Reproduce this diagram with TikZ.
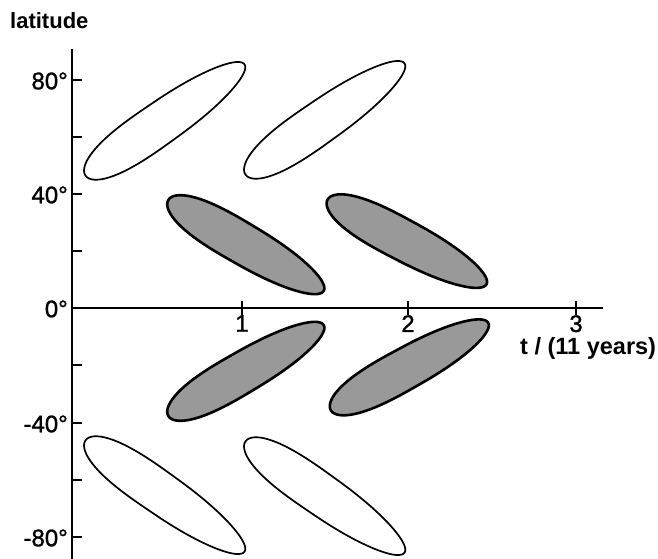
\documentclass[tikz,border=0pt]{standalone}
\usepackage{fontspec}
\setmainfont{Liberation Sans}
\newfontfamily\tickfont[FakeBold=1.2]{Liberation Sans}
\newcommand\myblob[7]{%
  \draw[#1, shift={(#2,#3)}, rotate=#4]
    plot[domain=0:360, samples=145]
      ({#5*sign(cos(\x))*pow(abs(cos(\x))+0.0001,0.8)},{#6*sin(\x)*(1+#7*cos(\x))}) -- cycle;}
\begin{document}
\begin{tikzpicture}[x=1pt,y=-1pt,
  axisline/.style={line width=1.8pt},
  tickmark/.style={line width=1.8pt},
  whiteblob/.style={line width=1.7pt, fill=white, line join=round},
  dotblob/.style={line width=2.6pt, fill=black!40, line join=round},
  ticklbl/.style={font=\tickfont\fontsize{24}{24}\selectfont, inner sep=0pt},
  titlelbl/.style={font=\bfseries\fontsize{22}{22}\selectfont, inner sep=0pt}]
\useasboundingbox (0,0) rectangle (658,559);
% axes
\coordinate (ytop) at (72,49);
\coordinate (ybot) at (72,559);
\coordinate (orig) at (72,308);
\coordinate (xend) at (603,308);
\draw[axisline] (ytop) -- (ybot);
\draw[axisline] (orig) -- (xend);
% latitude ticks
\foreach \yy in {80,137,194,251,365,423,480,537}
  \draw[tickmark] (72,\yy) -- (82,\yy);
\node[ticklbl, anchor=east] (l80) at (68,81) {80°};
\node[ticklbl, anchor=east] (l40) at (68,195) {40°};
\node[ticklbl, anchor=east] (l0) at (68,309) {0°};
\node[ticklbl, anchor=east] (lm40) at (68,424) {-40°};
\node[ticklbl, anchor=east] (lm80) at (68,538) {-80°};
% time ticks
\foreach \xx/\lab in {242/1,408/2,576/3}{
  \draw[tickmark] (\xx,301) -- (\xx,315);
  \node[ticklbl, anchor=north] (t\lab) at (\xx,315) {\lab};
}
\node[titlelbl, font=\bfseries\fontsize{23.5}{23.5}\selectfont, anchor=base west] (xlab) at (520,354) {t / (11 years)};
\node[titlelbl, anchor=base west] (ylab) at (10,29) {latitude};
% white blobs
\myblob{whiteblob}{165}{120}{35}{97}{21}{-0.15}
\myblob{whiteblob}{325}{119}{35}{97}{21}{-0.15}
\myblob{whiteblob}{165}{496}{-35}{97}{21}{-0.15}
\myblob{whiteblob}{325}{497}{-35}{97}{21}{-0.15}
% shaded blobs
\myblob{dotblob}{246}{245.5}{-30.3}{90}{20.5}{-0.12}
\myblob{dotblob}{407}{242}{-28}{90}{20.5}{-0.12}
\myblob{dotblob}{246}{370.5}{30.3}{90}{20.5}{-0.12}
\myblob{dotblob}{409.5}{366.5}{29}{90}{20.5}{-0.12}
\end{tikzpicture}
\end{document}
